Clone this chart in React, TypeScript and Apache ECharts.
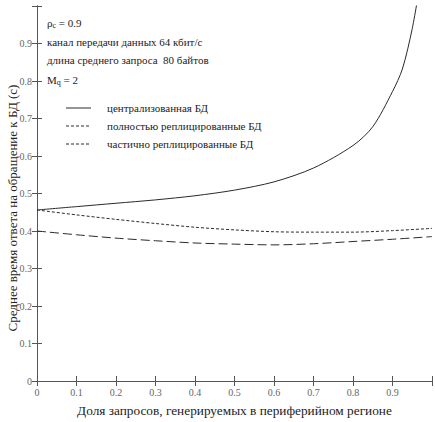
import React, { useEffect, useRef } from "react";
import * as echarts from "echarts";

const xTickLabels = ["0", "0.1", "0.2", "0.3", "0.4", "0.5", "0.6", "0.7", "0.8", "0.9", ""];
const yTickLabels = ["0", "0.1", "0.2", "0.3", "0.4", "0.5", "0.6", "0.7", "0.8", "0.9", ""];

const centralX = [0, 0.1, 0.2, 0.3, 0.4, 0.5, 0.6, 0.7, 0.8, 0.85, 0.9, 0.925, 0.95, 0.97];
const centralY = [0.456, 0.465, 0.474, 0.483, 0.494, 0.509, 0.531, 0.568, 0.628, 0.678, 0.772, 0.832, 0.94, 1.06];

const replX = [0, 0.1, 0.2, 0.3, 0.4, 0.5, 0.6, 0.7, 0.8, 0.9, 1.0];
const fullReplY = [0.456, 0.443, 0.431, 0.42, 0.41, 0.403, 0.398, 0.397, 0.397, 0.401, 0.407];
const partReplY = [0.4, 0.39, 0.381, 0.374, 0.368, 0.365, 0.363, 0.366, 0.372, 0.378, 0.385];

const seriesNames = ["централизованная БД", "полностью реплицированные БД", "частично реплицированные БД"];
const annotations = ["канал передачи данных 64 кбит/с", "длина среднего запроса  80 байтов"];

const FONT = "'Liberation Serif', 'DejaVu Serif', serif";
const LINE = "#2a2a2a";
const AXIS = "#555";

export default function App() {
  const ref = useRef<HTMLDivElement>(null);
  useEffect(() => {
    if (!ref.current) return;
    const chart = echarts.init(ref.current, null, { renderer: "svg" });
    const zip = (xs: number[], ys: number[]) => xs.map((x, i) => [x, ys[i]]);
    const dashes: any[] = ["solid", [3, 2], [9, 4]];
    const legendYs = [108, 126, 144];
    const legendGraphics: any[] = [];
    seriesNames.forEach((n, i) => {
      legendGraphics.push({
        type: "line",
        shape: { x1: 66, y1: legendYs[i], x2: 91, y2: legendYs[i] },
        style: { stroke: LINE, lineWidth: 1, lineDash: i === 0 ? null : [3, 2] },
      });
      legendGraphics.push({
        type: "text",
        x: 107,
        y: legendYs[i],
        style: { text: n, font: `11px ${FONT}`, fill: "#222", verticalAlign: "middle" },
      });
    });
    chart.setOption({
      animation: false,
      grid: { left: 37, top: 6, width: 399, height: 383 },
      xAxis: [
        {
          type: "value",
          min: 0,
          max: 1,
          interval: 0.1,
          name: "Доля запросов, генерируемых в периферийном регионе",
          nameLocation: "middle",
          nameGap: 23,
          nameTextStyle: { fontFamily: FONT, fontSize: 13.3, color: "#222" },
          axisLine: { show: true, lineStyle: { color: AXIS } },
          axisTick: { show: true, inside: true, length: 5, lineStyle: { color: AXIS } },
          axisLabel: {
            fontFamily: FONT,
            fontSize: 10,
            color: "#666",
            margin: 6,
            formatter: (v: number) => xTickLabels[Math.round(v * 10)] ?? "",
          },
          splitLine: { show: false },
        },
        {
          type: "value",
          position: "top",
          min: 0,
          max: 1,
          interval: 0.1,
          axisLine: { show: true, lineStyle: { color: AXIS } },
          axisTick: { show: true, inside: true, length: 5, lineStyle: { color: AXIS } },
          axisLabel: { show: false },
          splitLine: { show: false },
        },
      ],
      yAxis: [
        {
          type: "value",
          min: 0,
          max: 1,
          interval: 0.1,
          axisLine: { show: true, lineStyle: { color: AXIS } },
          axisTick: { show: true, inside: true, length: 5, lineStyle: { color: AXIS } },
          axisLabel: {
            fontFamily: FONT,
            fontSize: 10,
            color: "#666",
            margin: 5,
            formatter: (v: number) => yTickLabels[Math.round(v * 10)] ?? "",
          },
          splitLine: { show: false },
        },
        {
          type: "value",
          position: "right",
          min: 0,
          max: 1,
          interval: 0.1,
          axisLine: { show: true, lineStyle: { color: AXIS } },
          axisTick: { show: true, inside: true, length: 5, lineStyle: { color: AXIS } },
          axisLabel: { show: false },
          splitLine: { show: false },
        },
      ],
      series: [
        {
          name: seriesNames[0],
          type: "line",
          data: zip(centralX, centralY),
          smooth: 0.3,
          symbol: "none",
          clip: true,
          lineStyle: { color: LINE, width: 1, type: dashes[0] },
        },
        {
          name: seriesNames[1],
          type: "line",
          data: zip(replX, fullReplY),
          smooth: 0.3,
          symbol: "none",
          clip: true,
          lineStyle: { color: LINE, width: 1, type: dashes[1] },
        },
        {
          name: seriesNames[2],
          type: "line",
          data: zip(replX, partReplY),
          smooth: 0.3,
          symbol: "none",
          clip: true,
          lineStyle: { color: LINE, width: 1, type: dashes[2] },
        },
      ],
      graphic: [
        {
          type: "text",
          x: 47,
          y: 23,
          style: {
            text: "{a|ρ}{s|c}{a| = 0.9}",
            rich: {
              a: { font: `11px ${FONT}`, fill: "#222" },
              s: { font: `8px ${FONT}`, fill: "#222", padding: [4, 0, 0, 0] },
            },
            verticalAlign: "middle",
          },
        },
        {
          type: "text",
          x: 47,
          y: 42,
          style: { text: annotations[0], font: `11px ${FONT}`, fill: "#222", verticalAlign: "middle" },
        },
        {
          type: "text",
          x: 47,
          y: 60,
          style: { text: annotations[1], font: `11px ${FONT}`, fill: "#222", verticalAlign: "middle" },
        },
        {
          type: "text",
          x: 47,
          y: 80,
          style: {
            text: "{a|M}{s|q}{a| = 2}",
            rich: {
              a: { font: `11px ${FONT}`, fill: "#222" },
              s: { font: `8px ${FONT}`, fill: "#222", padding: [4, 0, 0, 0] },
            },
            verticalAlign: "middle",
          },
        },
        {
          type: "text",
          x: 12,
          y: 208,
          rotation: Math.PI / 2,
          style: {
            text: "Среднее время ответа на обращение к БД (с)",
            font: `13px ${FONT}`,
            fill: "#222",
            align: "center",
            verticalAlign: "middle",
          },
        },
        ...legendGraphics,
      ],
    });
    return () => chart.dispose();
  }, []);
  return <div ref={ref} style={{ position: "fixed", left: 0, top: 0, width: 435, height: 422, background: "#fff" }} />;
}
